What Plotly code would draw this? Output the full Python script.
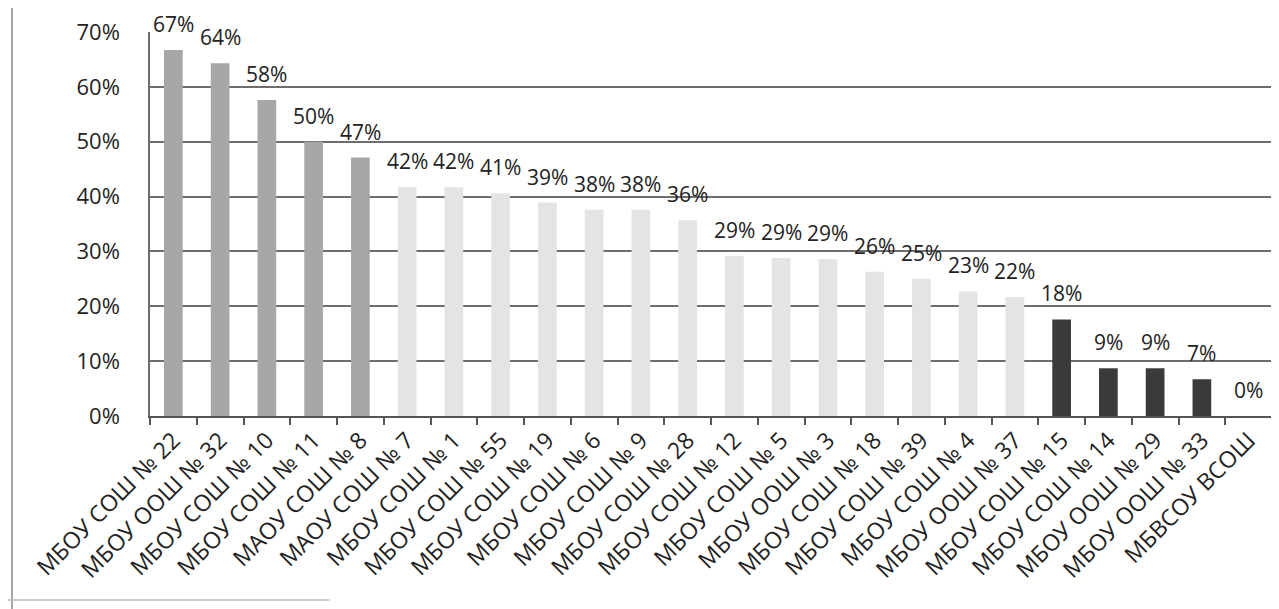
import plotly.graph_objects as go

schools = ["МБОУ СОШ № 22", "МБОУ ООШ № 32", "МБОУ СОШ № 10", "МБОУ СОШ № 11", "МАОУ СОШ № 8",
           "МАОУ СОШ № 7", "МБОУ СОШ № 1", "МБОУ СОШ № 55", "МБОУ СОШ № 19", "МБОУ СОШ № 6",
           "МБОУ СОШ № 9", "МБОУ СОШ № 28", "МБОУ СОШ № 12", "МБОУ СОШ № 5", "МБОУ ООШ № 3",
           "МБОУ СОШ № 18", "МБОУ СОШ № 39", "МБОУ СОШ № 4", "МБОУ ООШ № 37", "МБОУ СОШ № 15",
           "МБОУ СОШ № 14", "МБОУ ООШ № 29", "МБОУ ООШ № 33", "МБВСОУ ВСОШ"]
values = [66.7, 64.3, 57.6, 50.0, 47.1, 41.7, 41.7, 40.6, 38.9, 37.6, 37.6, 35.7,
          29.2, 28.8, 28.6, 26.3, 25.0, 22.7, 21.7, 17.6, 8.7, 8.7, 6.7, 0.0]
groups = ["high"] * 5 + ["mid"] * 14 + ["low"] * 5
group_colors = {"high": "#a7a7a7", "mid": "#e4e4e4", "low": "#3a3a3a"}
y_ticks = [0, 10, 20, 30, 40, 50, 60, 70]

labels = [f"{v:.0f}%" for v in values]
colors = [group_colors[g] for g in groups]

font = "Open Sans"

fig = go.Figure(go.Bar(
    x=schools, y=values, marker_color=colors, marker_line_width=0,
    width=0.4, hoverinfo="x+y",
))

# data labels above the bars (Excel "outside end" style, with a gap)
for s, v, t in zip(schools, values, labels):
    fig.add_annotation(x=s, y=v, text=t, showarrow=False, yanchor="bottom",
                       yshift=10, font=dict(family=font, size=21, color="#222222"))

fig.update_layout(
    width=1279, height=609,
    margin=dict(l=142, r=15, t=24, b=201),
    paper_bgcolor="white", plot_bgcolor="white",
    showlegend=False,
    font=dict(family=font, size=18, color="#222222"),
    bargap=0.6,
)
fig.update_yaxes(
    range=[0, 70], tickvals=y_ticks, ticktext=[f"{t}%" for t in y_ticks],
    showgrid=True, gridcolor="#6e6e6e", gridwidth=1.5,
    showline=True, linecolor="#6e6e6e", linewidth=1.5,
    zeroline=False, ticks="", ticklabelstandoff=24, automargin=False,
    tickfont=dict(family=font, size=22, color="#222222"),
)
fig.update_xaxes(
    type="category", tickangle=-45, tickson="boundaries",
    ticks="outside", ticklen=7, tickcolor="#555555", tickwidth=1.5,
    showline=True, linecolor="#555555", linewidth=1.5, automargin=False,
    tickfont=dict(family=font, size=23, color="#222222"),
    showgrid=False,
)
# scanned frame edges
fig.add_shape(type="line", xref="paper", yref="paper", x0=-0.123, x1=-0.123,
              y0=-0.6, y1=1.1, line=dict(color="#888888", width=1.5))
fig.add_shape(type="line", xref="paper", yref="paper", x0=-0.13, x1=0.16,
              y0=-0.479, y1=-0.479, line=dict(color="#bbbbbb", width=1.5))

fig.write_html("out.html")
